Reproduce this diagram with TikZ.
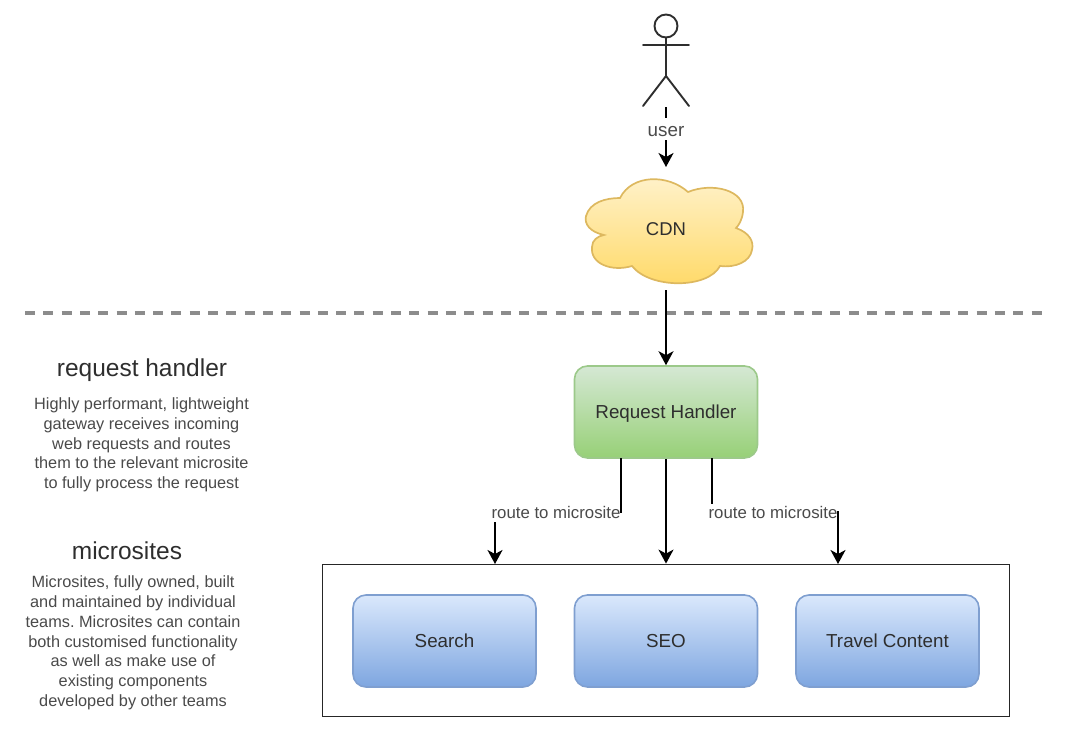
\documentclass[tikz,border=0pt]{standalone}
\usepackage{fontspec}
\setmainfont{Liberation Sans}
\usetikzlibrary{arrows.meta}
\frenchspacing
\definecolor{ink}{HTML}{2E2E2E}
\definecolor{lab}{HTML}{4A4A4A}
\definecolor{gtop}{HTML}{D5E8D4}
\definecolor{gbot}{HTML}{97D077}
\definecolor{gedge}{HTML}{9CC98A}
\definecolor{btop}{HTML}{DAE8FC}
\definecolor{bbot}{HTML}{7EA6E0}
\definecolor{bedge}{HTML}{7F9FD0}
\definecolor{ctop}{HTML}{FFF2CC}
\definecolor{cbot}{HTML}{FFD966}
\definecolor{cedge}{HTML}{DDB85F}
\definecolor{dashgrey}{HTML}{8C8C8C}
\tikzset{
  x=1pt,y=-1pt,
  box/.style={draw=#1,line width=1.6pt,rounded corners=13pt,minimum width=183pt,minimum height=92pt,inner sep=0pt,text=ink,text depth=0pt,font=\fontsize{18.8}{20}\selectfont},
  green box/.style={box=gedge,top color=gtop,bottom color=gbot},
  blue box/.style={box=bedge,top color=btop,bottom color=bbot},
  conn/.style={draw=black,line width=1.9pt},
  arrow/.style={conn,-{Stealth[length=14pt,width=15pt,inset=4pt]}},
  edgelabel/.style={fill=white,inner sep=0pt,text=lab,font=\fontsize{16.8}{18}\selectfont,minimum height=18pt},
  userlabel/.style={fill=white,inner sep=0pt,text=lab,font=\fontsize{18.8}{20}\selectfont,text height=14pt,text depth=0pt,minimum height=22pt,minimum width=38pt},
  heading/.style={text=ink,font=\fontsize{24.5}{26}\selectfont,inner sep=0pt},
  para/.style={align=center,text=lab,font=\fontsize{16.3}{19.75}\selectfont,inner sep=0pt},
  figure/.style={draw=ink,line width=1.9pt,line cap=round},
}
\begin{document}
\begin{tikzpicture}
\useasboundingbox (0,0) rectangle (1068,744);
% actor
\draw[figure] (666,26) circle (11.5);
\draw[figure] (666,37.5) -- (666,76) (643,45) -- (689,45) (643,106) -- (666,76) -- (689,106);
\coordinate (actorfoot) at (666,107);
% cloud
\path[draw=cedge,line width=1.7pt,top color=ctop,bottom color=cbot]
  (620,198) .. controls (632,174) and (668,174) .. (688,192)
  .. controls (712,182) and (746,190) .. (743,212)
  .. controls (742,220) and (739,225) .. (736,228)
  .. controls (750,233) and (754,242) .. (752,250)
  .. controls (750,262) and (735,268) .. (720,266)
  .. controls (708,289) and (650,289) .. (632,266)
  .. controls (612,272) and (590,264) .. (592,247)
  .. controls (592,240) and (598,236) .. (604,235)
  .. controls (590,232) and (584,224) .. (586,216)
  .. controls (590,202) and (606,198) .. (620,198) -- cycle;
\node[text=ink,font=\fontsize{18.5}{20}\selectfont,inner sep=0pt] (cdn) at (666,229.5) {CDN};
\coordinate (cloudtop) at (666,167);
\coordinate (cloudbottom) at (666,290);
% separator
\coordinate (sepl) at (25,313);
\coordinate (sepr) at (1042,313);
\draw[draw=dashgrey,line width=3.4pt,dash pattern=on 10pt off 8.3pt] (sepl) -- (sepr);
% handler
\node[green box] (rh) at (666,412) {Request Handler};
% container
\node[draw=black!85,line width=1.8pt,minimum width=687pt,minimum height=152pt,inner sep=0pt] (sites) at (666,640.5) {};
\node[blue box] (search) at (444.5,641) {Search};
\node[blue box] (seo) at (666,641) {SEO};
\node[blue box] (travel) at (887.5,641) {Travel Content};
% connectors
\draw[arrow] (actorfoot) -- node[userlabel,pos=0.367] (ulabel) {user} (cloudtop);
\draw[arrow] (cloudbottom) -- (rh.north);
\draw[arrow] (rh.south) -- (seo.north |- sites.north);
\coordinate (lstart) at (621,458);
\coordinate (lknee) at (621,512);
\coordinate (lknee2) at (495,512);
\coordinate (lend) at (495,564);
\draw[arrow] (lstart) -- (lknee) -- (lknee2) -- (lend);
\node[edgelabel] (l1) at (556,512.5) {route to microsite};
\coordinate (rstart) at (712,458);
\coordinate (rknee) at (712,512);
\coordinate (rknee2) at (838,512);
\coordinate (rend) at (838,564);
\draw[arrow] (rstart) -- (rknee) -- (rknee2) -- (rend);
\node[edgelabel] (l2) at (773,512.5) {route to microsite};
% side text
\node[heading] (h1) at (142,370) {request handler};
\node[para] (p1) at (141.5,445) {Highly performant, lightweight\\gateway receives incoming\\web requests and routes\\them to the relevant microsite\\to fully process the request};
\node[heading] (h2) at (127,551) {microsites};
\node[para] (p2) at (133,643) {Microsites, fully owned, built\\and maintained by individual\\teams. Microsites can contain\\both customised functionality\\as well as make use of\\existing components\\developed by other teams};
\end{tikzpicture}
\end{document}
